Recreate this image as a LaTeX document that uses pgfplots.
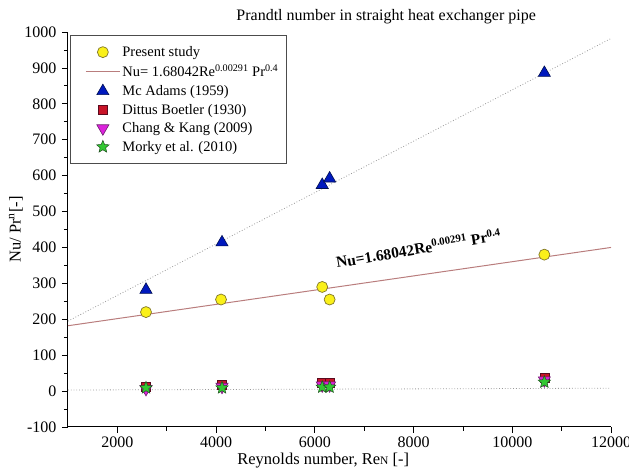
\documentclass[border=0pt]{standalone}
\usepackage{fontspec}
\setmainfont{Liberation Serif}
\usepackage{pgfplots}
\pgfplotsset{compat=1.18}

\definecolor{ptyellow}{RGB}{250,240,25}
\definecolor{ptyellowdk}{RGB}{130,120,40}
\definecolor{mcblue}{RGB}{0,25,190}
\definecolor{mcbluedk}{RGB}{0,15,80}
\definecolor{dbred}{RGB}{200,20,40}
\definecolor{dbreddk}{RGB}{90,10,30}
\definecolor{ckmag}{RGB}{220,35,220}
\definecolor{ckmagdk}{RGB}{110,30,110}
\definecolor{mkgreen}{RGB}{50,200,50}
\definecolor{mkgreendk}{RGB}{30,80,30}
\definecolor{fitline}{RGB}{185,125,125}

% filled five-pointed star
\pgfdeclareplotmark{fstar}{%
  \pgfpathmoveto{\pgfpointpolar{90}{\pgfplotmarksize}}%
  \pgfpathlineto{\pgfpointpolar{126}{0.45\pgfplotmarksize}}%
  \pgfpathlineto{\pgfpointpolar{162}{\pgfplotmarksize}}%
  \pgfpathlineto{\pgfpointpolar{198}{0.45\pgfplotmarksize}}%
  \pgfpathlineto{\pgfpointpolar{234}{\pgfplotmarksize}}%
  \pgfpathlineto{\pgfpointpolar{270}{0.45\pgfplotmarksize}}%
  \pgfpathlineto{\pgfpointpolar{306}{\pgfplotmarksize}}%
  \pgfpathlineto{\pgfpointpolar{342}{0.45\pgfplotmarksize}}%
  \pgfpathlineto{\pgfpointpolar{18}{\pgfplotmarksize}}%
  \pgfpathlineto{\pgfpointpolar{54}{0.45\pgfplotmarksize}}%
  \pgfpathclose
  \pgfusepathqfillstroke
}

\pgfplotsset{
  wide legend/.style={legend image code/.code={%
      \path (-9pt,0pt);
      \draw[mark repeat=2,mark phase=2,##1] plot coordinates {(0pt,0pt) (17pt,0pt) (34pt,0pt)};}},
}

\begin{document}
\begin{tikzpicture}
\begin{axis}[
    scale only axis,
    width=543pt, height=395pt,
    xmin=1000, xmax=12000,
    ymin=-100, ymax=1000,
    axis x line=bottom, axis y line=left,
    axis line style={-, line width=1pt},
    xtick={2000,4000,6000,8000,10000,12000},
    ytick={-100,0,100,200,300,400,500,600,700,800,900,1000},
    minor x tick num=1, minor y tick num=1,
    tick align=outside,
    major tick length=6pt, minor tick length=4pt,
    tick style={black, line width=0.8pt},
    scaled ticks=false,
    /pgf/number format/1000 sep={},
    /pgf/number format/assume math mode=true,
    tick label style={font=\fontsize{16}{18}\selectfont},
    yticklabel style={xshift=-2pt},
    xlabel={Reynolds number, Re{\fontsize{11.5}{12}\selectfont N} [-]},
    ylabel={Nu/ Pr\textsuperscript{n}[-]},
    label style={font=\fontsize{16.5}{18}\selectfont},
    xlabel style={at={(axis description cs:0.47,-0.084)}, anchor=center},
    ylabel style={at={(axis description cs:-0.096,0.5)}, anchor=center},
    title={Prandtl number in straight heat exchanger pipe},
    title style={font=\fontsize{16}{18}\selectfont, at={(axis description cs:0.586,1.023)}, anchor=center, yshift=0pt},
    legend style={at={(axis description cs:0.004,0.992)}, anchor=north west,
        draw=gray!60!black, font=\fontsize{14.5}{16}\selectfont,
        row sep=3pt, inner xsep=6pt, inner ysep=9pt},
    legend cell align=left,
]
% fitted lines drawn behind the markers
\addplot[forget plot, gray!80, dotted, line width=0.8pt] coordinates {(1000,195) (12000,982)};
\addplot[forget plot, gray!80, dotted, line width=0.8pt] coordinates {(1000,3) (12000,8)};
\addplot[forget plot, fitline, line width=1pt] coordinates {(1000,182) (12000,400)};

\addplot[only marks, mark=*, mark size=5.5pt, wide legend,
    mark options={fill=ptyellow, draw=ptyellowdk, line width=0.7pt}] coordinates {
    (2580,220) (4100,255) (6150,290) (6300,255) (10650,380)
};
\addlegendentry{Present study}

\addlegendimage{fitline, line width=1pt, wide legend}
\addlegendentry{Nu= 1.68042Re\textsuperscript{0.00291} Pr\textsuperscript{0.4}}

\addplot[only marks, mark=triangle*, mark size=7pt, wide legend,
    mark options={fill=mcblue, draw=mcbluedk, line width=0.6pt}] coordinates {
    (2580,282) (4120,414) (6150,574) (6300,592) (10650,886)
};
\addlegendentry{Mc Adams (1959)}

\addplot[only marks, mark=square*, mark size=4.5pt, wide legend,
    mark options={fill=dbred, draw=dbreddk, line width=0.6pt}] coordinates {
    (2580,12) (4120,18) (6150,24) (6300,24) (10650,38)
};
\addlegendentry{Dittus Boetler (1930)}

\addplot[only marks, mark=triangle*, mark size=7pt, wide legend,
    mark options={rotate=180, fill=ckmag, draw=ckmagdk, line width=0.6pt}] coordinates {
    (2580,6) (4120,12) (6150,16) (6300,16) (10650,30)
};
\addlegendentry{Chang \& Kang (2009)}

\addplot[only marks, mark=fstar, mark size=6.5pt, wide legend,
    mark options={fill=mkgreen, draw=mkgreendk, line width=0.5pt}] coordinates {
    (2580,9) (4120,9) (6150,11) (6300,11) (10650,25)
};
\addlegendentry{Morky et al. (2010)}

\node[rotate=9.5, font=\bfseries\fontsize{15.5}{17}\selectfont] at (axis cs:8100,398)
    {Nu=1.68042Re\textsuperscript{0.00291} Pr\textsuperscript{0.4}};
\end{axis}
\pgfresetboundingbox
\path[use as bounding box] ([xshift=-68pt,yshift=-49pt]current axis.south west)
    rectangle ([xshift=18pt,yshift=32pt]current axis.north east);
\end{tikzpicture}
\end{document}
